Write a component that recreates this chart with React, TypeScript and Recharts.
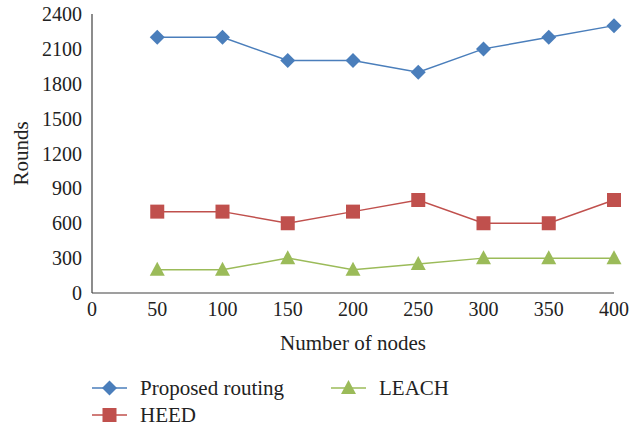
import React from "react";
import { LineChart, Line, XAxis, YAxis, Legend } from "recharts";

document.body.style.margin = "0";

const nodes = [50, 100, 150, 200, 250, 300, 350, 400];
const proposed = [2200, 2200, 2000, 2000, 1900, 2100, 2200, 2300];
const heed = [700, 700, 600, 700, 800, 600, 600, 800];
const leach = [200, 200, 300, 200, 250, 300, 300, 300];
const xTicks = [0, 50, 100, 150, 200, 250, 300, 350, 400];
const yTicks = [0, 300, 600, 900, 1200, 1500, 1800, 2100, 2400];

const data = nodes.map((n, i) => ({
  n,
  proposed: proposed[i],
  heed: heed[i],
  leach: leach[i],
}));

const FONT = "'Liberation Serif', 'Times New Roman', serif";
const AXIS = "#404040";

const series = [
  { key: "proposed", name: "Proposed routing", color: "#4a7ebb", shape: "diamond" },
  { key: "heed", name: "HEED", color: "#c0504d", shape: "square" },
  { key: "leach", name: "LEACH", color: "#9bbb59", shape: "triangle" },
];

const Marker = ({ cx, cy, shape, color }: any) => {
  if (shape === "diamond") {
    return (
      <polygon
        points={`${cx},${cy - 7.5} ${cx + 7.5},${cy} ${cx},${cy + 7.5} ${cx - 7.5},${cy}`}
        fill={color}
      />
    );
  }
  if (shape === "square") {
    return <rect x={cx - 7} y={cy - 7} width={14} height={14} fill={color} />;
  }
  return (
    <polygon
      points={`${cx},${cy - 8} ${cx + 7.5},${cy + 6} ${cx - 7.5},${cy + 6}`}
      fill={color}
    />
  );
};

const LegendContent = () => {
  const items = [
    { s: series[0], x: 92, y: 18 },
    { s: series[2], x: 331, y: 18 },
    { s: series[1], x: 92, y: 45 },
  ];
  return (
    <svg width={639} height={57} style={{ display: "block" }}>
      {items.map(({ s, x, y }) => (
        <g key={s.key}>
          <line x1={x} x2={x + 35} y1={y} y2={y} stroke={s.color} strokeWidth={1.5} />
          <Marker cx={x + 17.5} cy={y} shape={s.shape} color={s.color} />
          <text
            x={x + 48}
            y={y + 7}
            fontFamily={FONT}
            fontSize={21}
            fill="#222"
          >
            {s.name}
          </text>
        </g>
      ))}
    </svg>
  );
};

const XTitle = ({ viewBox }: any) => (
  <text
    x={viewBox.x + viewBox.width / 2}
    y={viewBox.y + 57}
    textAnchor="middle"
    fontFamily={FONT}
    fontSize={21}
    fill="#222"
  >
    Number of nodes
  </text>
);

const YTitle = ({ viewBox }: any) => {
  const cy = viewBox.y + viewBox.height / 2;
  return (
    <text
      x={28}
      y={cy}
      transform={`rotate(-90, 28, ${cy})`}
      textAnchor="middle"
      fontFamily={FONT}
      fontSize={21}
      fill="#222"
    >
      Rounds
    </text>
  );
};

export default function App() {
  return (
    <div style={{ width: 639, height: 427, background: "#fff" }}>
      <LineChart
        width={639}
        height={427}
        data={data}
        margin={{ top: 14, right: 25, left: 0, bottom: 0 }}
      >
        <XAxis
          dataKey="n"
          type="number"
          domain={[0, 400]}
          ticks={xTicks}
          height={77}
          axisLine={{ stroke: AXIS, strokeWidth: 1.2 }}
          tickLine={false}
          tickSize={7}
          tickMargin={2}
          tick={{ fontSize: 20, fill: "#222", fontFamily: FONT }}
          label={{ content: <XTitle /> } as any}
        />
        <YAxis
          type="number"
          domain={[0, 2400]}
          ticks={yTicks}
          width={92}
          axisLine={{ stroke: AXIS, strokeWidth: 1.2 }}
          tickLine={false}
          tickSize={8}
          tickMargin={2}
          tick={{ fontSize: 20, fill: "#222", fontFamily: FONT }}
          label={{ content: <YTitle /> } as any}
        />
        <Legend
          verticalAlign="bottom"
          content={<LegendContent />}
          wrapperStyle={{ left: 0, width: 639, height: 57 }}
        />
        {series.map((s) => (
          <Line
            key={s.key}
            type="linear"
            dataKey={s.key}
            name={s.name}
            stroke={s.color}
            strokeWidth={1.5}
            isAnimationActive={false}
            dot={(p: any) => (
              <Marker key={`${s.key}-${p.index}`} cx={p.cx} cy={p.cy} shape={s.shape} color={s.color} />
            )}
            activeDot={false}
          />
        ))}
      </LineChart>
    </div>
  );
}
